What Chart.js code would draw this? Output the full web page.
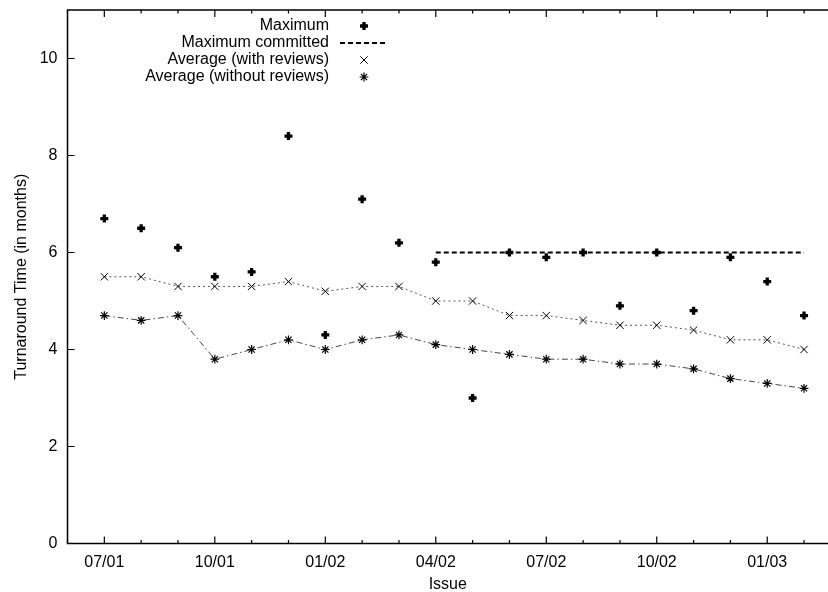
<!DOCTYPE html>
<html><head><meta charset="utf-8">
<script src="https://cdn.jsdelivr.net/npm/chart.js@4/dist/chart.umd.min.js"></script>
<style>html,body{margin:0;padding:0;background:#fff;overflow:hidden}#wrap{width:828px;height:592px}</style>
</head><body><div id="wrap"><canvas id="c" width="828" height="592"></canvas></div>
<script>
const issues = ['07/01','08/01','09/01','10/01','11/01','12/01','01/02','02/02','03/02','04/02','05/02','06/02','07/02','08/02','09/02','10/02','11/02','12/02','01/03','02/03'];
const maximum = [6.7,6.5,6.1,5.5,5.6,8.4,4.3,7.1,6.2,5.8,3.0,6.0,5.9,6.0,4.9,6.0,4.8,5.9,5.4,4.7];
const maxCommitted = [null,null,null,null,null,null,null,null,null,6,6,6,6,6,6,6,6,6,6,6];
const avgWithReviews = [5.5,5.5,5.3,5.3,5.3,5.4,5.2,5.3,5.3,5.0,5.0,4.7,4.7,4.6,4.5,4.5,4.4,4.2,4.2,4.0];
const avgWithoutReviews = [4.7,4.6,4.7,3.8,4.0,4.2,4.0,4.2,4.3,4.1,4.0,3.9,3.8,3.8,3.7,3.7,3.6,3.4,3.3,3.2];
const yTicks = [0,2,4,6,8,10];
const FONT = '"Liberation Sans", Arial, Helvetica, sans-serif';

const pts = arr => arr.map((v,i) => ({x:i, y:v}));

const frameAndKey = {
  id: 'frameAndKey',
  afterDraw(chart) {
    const {ctx, chartArea:a, scales:{x, y}} = chart;
    ctx.save();
    ctx.strokeStyle = '#000';
    ctx.lineWidth = 1.5;
    ctx.setLineDash([]);
    ctx.beginPath();
    ctx.moveTo(a.right + 2, a.top); ctx.lineTo(a.left, a.top);
    ctx.lineTo(a.left, a.bottom); ctx.lineTo(a.right + 2, a.bottom);
    ctx.stroke();
    ctx.lineWidth = 1.2;
    ctx.beginPath();
    for (let i = Math.ceil(x.min); i <= Math.floor(x.max); i++) {
      const px = x.getPixelForValue(i);
      const len = (i % 3 === 0) ? 7 : 3.5;
      ctx.moveTo(px, a.bottom); ctx.lineTo(px, a.bottom - len);
      ctx.moveTo(px, a.top); ctx.lineTo(px, a.top + len);
    }
    for (const v of yTicks) {
      const py = y.getPixelForValue(v);
      ctx.moveTo(a.left, py); ctx.lineTo(a.left + 7, py);
    }
    ctx.stroke();
    // key
    ctx.font = '16px ' + FONT;
    ctx.fillStyle = '#000';
    ctx.textAlign = 'right';
    ctx.textBaseline = 'middle';
    const textRight = 329, sampleX = 364, rowY0 = 26, rowH = 17;
    chart.data.datasets.forEach((ds, k) => {
      const ry = rowY0 + k * rowH;
      ctx.fillText(ds.label, textRight, ry);
      if (ds.pointRadius !== 0) {
        ctx.strokeStyle = ds.pointBorderColor || '#000';
        ctx.lineWidth = ds.pointBorderWidth;
        ctx.setLineDash([]);
        Chart.helpers.drawPoint(ctx, {pointStyle: ds.pointStyle, radius: ds.pointRadius, borderWidth: ds.pointBorderWidth, rotation: 0}, sampleX, ry);
      } else {
        ctx.strokeStyle = ds.borderColor;
        ctx.lineWidth = ds.borderWidth;
        ctx.setLineDash(ds.borderDash || []);
        ctx.beginPath(); ctx.moveTo(340, ry); ctx.lineTo(388, ry); ctx.stroke();
      }
    });
    ctx.restore();
  }
};

new Chart(document.getElementById('c'), {
  type: 'line',
  data: {
    datasets: [
      { label: 'Maximum', data: pts(maximum), showLine: false,
        pointStyle: 'cross', pointRadius: 4, pointHoverRadius: 4, pointBorderWidth: 3.3,
        pointBorderColor: '#000', pointBackgroundColor: '#000', borderColor: '#000', borderWidth: 3.3 },
      { label: 'Maximum committed', data: pts(maxCommitted), pointRadius: 0, pointHoverRadius: 0,
        borderColor: '#000', borderWidth: 2, borderDash: [5, 3], spanGaps: false },
      { label: 'Average (with reviews)', data: pts(avgWithReviews),
        borderColor: '#555', borderWidth: 1, borderDash: [2, 3],
        pointStyle: 'crossRot', pointRadius: 5.2, pointHoverRadius: 5.2, pointBorderWidth: 1,
        pointBorderColor: '#000', pointBackgroundColor: '#000' },
      { label: 'Average (without reviews)', data: pts(avgWithoutReviews),
        borderColor: '#444', borderWidth: 1, borderDash: [6, 3, 1.5, 3],
        pointStyle: 'star', pointRadius: 4.4, pointHoverRadius: 4.4, pointBorderWidth: 1.2,
        pointBorderColor: '#000', pointBackgroundColor: '#000' }
    ]
  },
  options: {
    responsive: false, animation: false, devicePixelRatio: 1,
    layout: { autoPadding: false, padding: { top: 10, left: 0, right: 0, bottom: 0 } },
    plugins: { legend: { display: false }, tooltip: { enabled: false } },
    font: { family: FONT, size: 16 },
    scales: {
      x: {
        type: 'linear', min: -1, max: 19.65,
        grid: { display: false, drawTicks: false }, border: { display: false },
        afterFit(s) { s.height = 48.5; s.paddingLeft = 0; s.paddingRight = 0; },
        ticks: { stepSize: 1, autoSkip: false, maxRotation: 0, padding: 9, color: '#000',
          font: { family: FONT, size: 16 },
          callback: v => (Number.isInteger(v) && v >= 0 && v % 3 === 0 && issues[v]) ? issues[v] : '' },
        title: { display: true, text: 'Issue', color: '#000', font: { family: FONT, size: 16 },
          padding: { top: 0, bottom: -2 } }
      },
      y: {
        min: 0, max: 11,
        grid: { display: false, drawTicks: false }, border: { display: false },
        afterFit(s) { s.width = 67.5; s.paddingTop = 0; s.paddingBottom = 0; },
        ticks: { stepSize: 1, autoSkip: false, padding: 10, color: '#000',
          font: { family: FONT, size: 16 },
          callback: v => yTicks.includes(v) ? String(v) : '' },
        title: { display: true, text: 'Turnaround Time (in months)', color: '#000',
          font: { family: FONT, size: 16 }, padding: { top: 11.5, bottom: 0 } }
      }
    }
  },
  plugins: [frameAndKey]
});
</script></body></html>
